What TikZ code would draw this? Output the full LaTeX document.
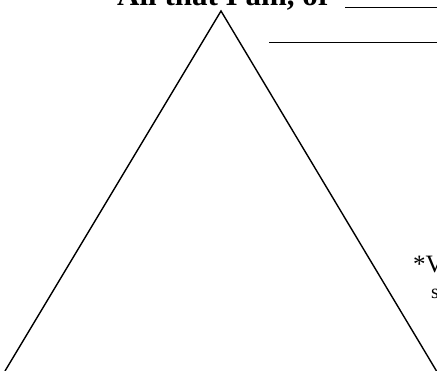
\documentclass[tikz,border=0pt]{standalone}
\usepackage{fontspec}
\setmainfont{Liberation Serif}
\usepackage{tikz}

\begin{document}
\begin{tikzpicture}[x=1pt,y=-1pt]
    \useasboundingbox (0,0) rectangle (437,370);
    \clip (0,0) rectangle (437,370);

    % heading and blanks
    \node[anchor=base west,inner sep=0pt] (title) at (117,5)
        {\fontsize{31}{31}\selectfont\bfseries All that I am, or};
    \draw[line width=1.4pt] (345,7.5) -- (440,7.5);
    \draw[line width=1.4pt] (269,42.7) -- (440,42.7);

    % the triangle
    \draw[line width=1.4pt,line join=miter]
        (5,371) -- (221,11) -- (436.5,371);

    % side note, cut at the edge
    \node[anchor=base west,inner sep=0pt] (note) at (413,272)
        {\fontsize{25}{25}\selectfont *V};
    \node[anchor=base west,inner sep=0pt] (noteb) at (431,298)
        {\fontsize{20}{20}\selectfont s};
\end{tikzpicture}
\end{document}
